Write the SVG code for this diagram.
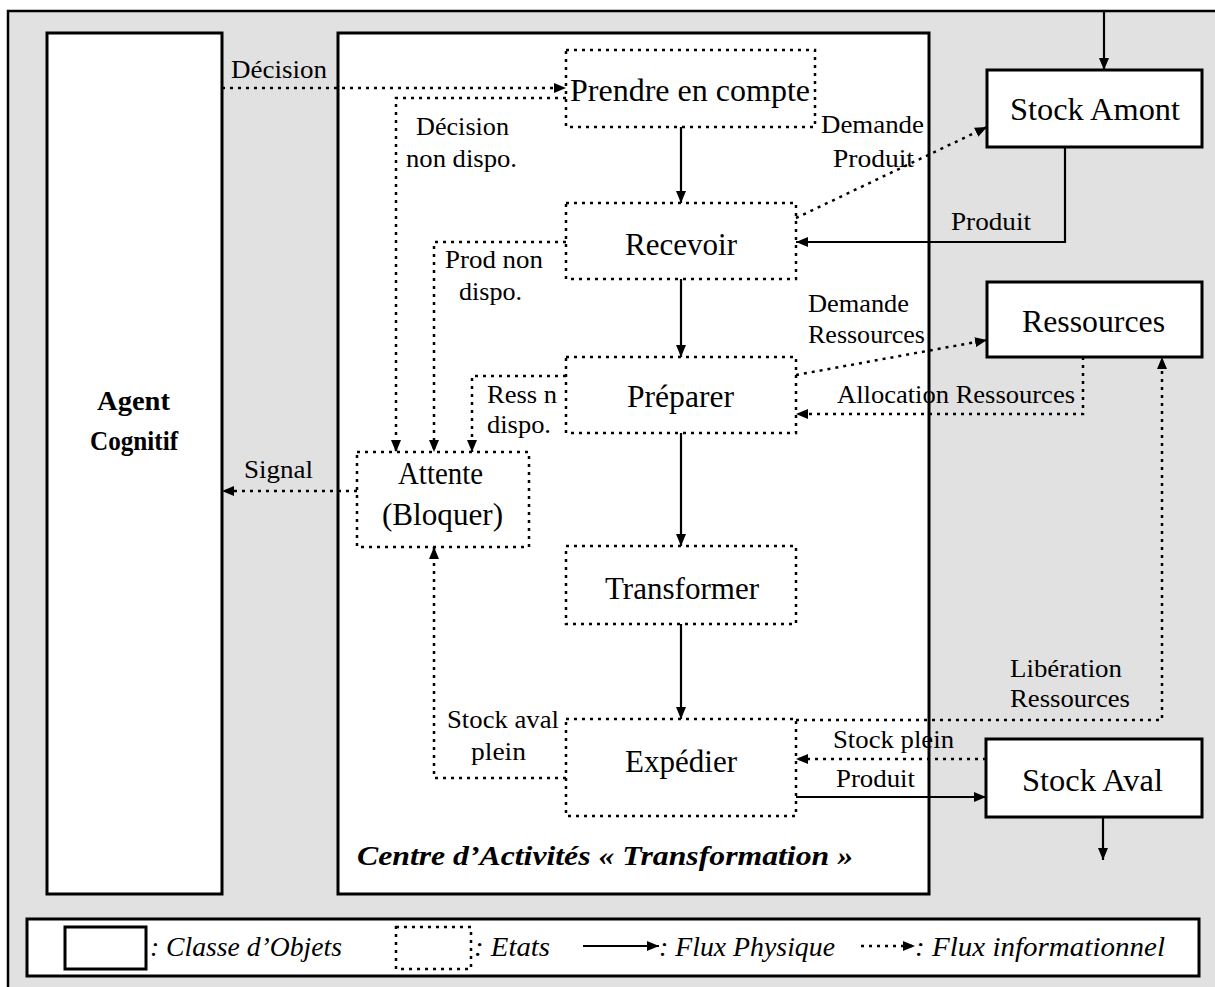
<svg xmlns="http://www.w3.org/2000/svg" width="1215" height="987" viewBox="0 0 1215 987">
<style>
.bg{fill:#e1e1e1;stroke:#000;stroke-width:2.5}
.obj{fill:#fff;stroke:#000;stroke-width:3}
.state{fill:#fff;stroke:#000;stroke-width:2.5;stroke-dasharray:3 5}
.info{fill:none;stroke:#000;stroke-width:2.5;stroke-dasharray:3 5}
.phys{fill:none;stroke:#000;stroke-width:2.2}
text{font-family:"Liberation Serif","Times New Roman",serif;fill:#000}
.big{font-size:32px}
.sm{font-size:25px}
.lg{font-size:27px;font-style:italic}
</style>
<defs>
<marker id="ah" viewBox="0 0 12 10" refX="12" refY="5" markerWidth="12" markerHeight="10" markerUnits="userSpaceOnUse" orient="auto">
<path d="M0,0 L12,5 L0,10 z" fill="#000"/>
</marker>
</defs>
<rect x="0" y="0" width="1215" height="987" fill="#fff"/>
<rect class="bg" x="8" y="11" width="1220" height="990"/>

<g id="agent">
<rect class="obj" x="47" y="33" width="175" height="861"/>
<text x="97" y="410" font-size="27" font-weight="bold" textLength="73" lengthAdjust="spacingAndGlyphs">Agent</text>
<text x="90" y="450" font-size="27" font-weight="bold" textLength="88" lengthAdjust="spacingAndGlyphs">Cognitif</text>
</g>

<g id="centre">
<rect class="obj" x="338" y="33" width="591" height="861"/>
<text x="357" y="865" font-size="28" font-weight="bold" font-style="italic" textLength="496" lengthAdjust="spacingAndGlyphs">Centre d’Activités « Transformation »</text>
</g>

<g id="prendre">
<rect class="state" x="566" y="50" width="249" height="77"/>
<text class="big" x="570" y="101" textLength="240" lengthAdjust="spacingAndGlyphs">Prendre en compte</text>
</g>
<g id="recevoir">
<rect class="state" x="566" y="203" width="230" height="76"/>
<text class="big" x="625" y="255" textLength="112" lengthAdjust="spacingAndGlyphs">Recevoir</text>
</g>
<g id="preparer">
<rect class="state" x="566" y="357" width="230" height="76"/>
<text class="big" x="627" y="407" textLength="107" lengthAdjust="spacingAndGlyphs">Préparer</text>
</g>
<g id="transformer">
<rect class="state" x="566" y="546" width="230" height="78"/>
<text class="big" x="605" y="599" textLength="154" lengthAdjust="spacingAndGlyphs">Transformer</text>
</g>
<g id="expedier">
<rect class="state" x="566" y="719" width="230" height="97"/>
<text class="big" x="625" y="772" textLength="112" lengthAdjust="spacingAndGlyphs">Expédier</text>
</g>
<g id="attente">
<rect class="state" x="357" y="452" width="172" height="95"/>
<text class="big" x="398" y="484" textLength="85" lengthAdjust="spacingAndGlyphs">Attente</text>
<text class="big" x="382" y="525" textLength="121" lengthAdjust="spacingAndGlyphs">(Bloquer)</text>
</g>

<g id="stock-amont">
<rect class="obj" x="987" y="70" width="215" height="77"/>
<text class="big" x="1010" y="120" textLength="170" lengthAdjust="spacingAndGlyphs">Stock Amont</text>
</g>
<g id="ressources">
<rect class="obj" x="987" y="282" width="215" height="75"/>
<text class="big" x="1022" y="332" textLength="143" lengthAdjust="spacingAndGlyphs">Ressources</text>
</g>
<g id="stock-aval">
<rect class="obj" x="986" y="739" width="216" height="78"/>
<text class="big" x="1022" y="791" textLength="141" lengthAdjust="spacingAndGlyphs">Stock Aval</text>
</g>

<g id="connectors">
<path class="info" d="M222,88 H566" marker-end="url(#ah)"/>
<path class="info" d="M566,98 H396 V452" marker-end="url(#ah)"/>
<path class="info" d="M566,242 H434 V452" marker-end="url(#ah)"/>
<path class="info" d="M566,376 H472 V452" marker-end="url(#ah)"/>
<path class="info" d="M357,491 H222" marker-end="url(#ah)"/>
<path class="info" d="M566,778 H434 V547" marker-end="url(#ah)"/>
<path class="phys" d="M681,127 V203" marker-end="url(#ah)"/>
<path class="phys" d="M681,279 V357" marker-end="url(#ah)"/>
<path class="phys" d="M681,433 V546" marker-end="url(#ah)"/>
<path class="phys" d="M681,624 V719" marker-end="url(#ah)"/>
<path class="info" d="M796,218 L987,127" marker-end="url(#ah)"/>
<path class="phys" d="M1065,147 V242 H796" stroke-width="2.6" marker-end="url(#ah)"/>
<path class="phys" d="M1104,11 V70" marker-end="url(#ah)"/>
<path class="info" d="M796,375 L987,340" marker-end="url(#ah)"/>
<path class="info" d="M1083,357 V414 H796" marker-end="url(#ah)"/>
<path class="info" d="M796,720 H1162 V357" marker-end="url(#ah)"/>
<path class="info" d="M986,759 H796" marker-end="url(#ah)"/>
<path class="phys" d="M796,797 H986" stroke-width="2.6" marker-end="url(#ah)"/>
<path class="phys" d="M1103,817 V860" marker-end="url(#ah)"/>
<text class="sm" x="231" y="78" textLength="96" lengthAdjust="spacingAndGlyphs">Décision</text>
<text class="sm" x="416" y="135" textLength="93" lengthAdjust="spacingAndGlyphs">Décision</text>
<text class="sm" x="406" y="167" textLength="111" lengthAdjust="spacingAndGlyphs">non dispo.</text>
<text class="sm" x="445" y="268" textLength="98" lengthAdjust="spacingAndGlyphs">Prod non</text>
<text class="sm" x="459" y="300" textLength="63" lengthAdjust="spacingAndGlyphs">dispo.</text>
<text class="sm" x="487" y="403" textLength="70" lengthAdjust="spacingAndGlyphs">Ress n</text>
<text class="sm" x="487" y="433" textLength="64" lengthAdjust="spacingAndGlyphs">dispo.</text>
<text class="sm" x="244" y="478" textLength="69" lengthAdjust="spacingAndGlyphs">Signal</text>
<text class="sm" x="447" y="728" textLength="112" lengthAdjust="spacingAndGlyphs">Stock aval</text>
<text class="sm" x="471" y="760" textLength="55" lengthAdjust="spacingAndGlyphs">plein</text>
<text class="sm" x="821" y="133" textLength="103" lengthAdjust="spacingAndGlyphs">Demande</text>
<text class="sm" x="833" y="167" textLength="81" lengthAdjust="spacingAndGlyphs">Produit</text>
<text class="sm" x="951" y="230" textLength="80" lengthAdjust="spacingAndGlyphs">Produit</text>
<text class="sm" x="808" y="312" textLength="101" lengthAdjust="spacingAndGlyphs">Demande</text>
<text class="sm" x="808" y="343" textLength="117" lengthAdjust="spacingAndGlyphs">Ressources</text>
<text class="sm" x="837" y="403" textLength="238" lengthAdjust="spacingAndGlyphs">Allocation Ressources</text>
<text class="sm" x="1010" y="677" textLength="112" lengthAdjust="spacingAndGlyphs">Libération</text>
<text class="sm" x="1010" y="707" textLength="120" lengthAdjust="spacingAndGlyphs">Ressources</text>
<text class="sm" x="833" y="748" textLength="121" lengthAdjust="spacingAndGlyphs">Stock plein</text>
<text class="sm" x="836" y="787" textLength="79" lengthAdjust="spacingAndGlyphs">Produit</text>
</g>

<g id="legend">
<rect class="obj" x="27" y="919" width="1172" height="57" stroke-width="2.5"/>
<rect class="obj" x="65" y="927" width="81" height="42" stroke-width="2.5"/>
<text class="lg" x="150" y="956" textLength="192" lengthAdjust="spacingAndGlyphs">: Classe d’Objets</text>
<rect class="state" x="396" y="927" width="75" height="42"/>
<text class="lg" x="474" y="956" textLength="76" lengthAdjust="spacingAndGlyphs">: Etats</text>
<path class="phys" d="M583,946 H659" marker-end="url(#ah)"/>
<text class="lg" x="659" y="956" textLength="176" lengthAdjust="spacingAndGlyphs">: Flux Physique</text>
<path class="info" d="M861,946 H915" marker-end="url(#ah)"/>
<text class="lg" x="915" y="956" textLength="250" lengthAdjust="spacingAndGlyphs">: Flux informationnel</text>
</g>
</svg>
